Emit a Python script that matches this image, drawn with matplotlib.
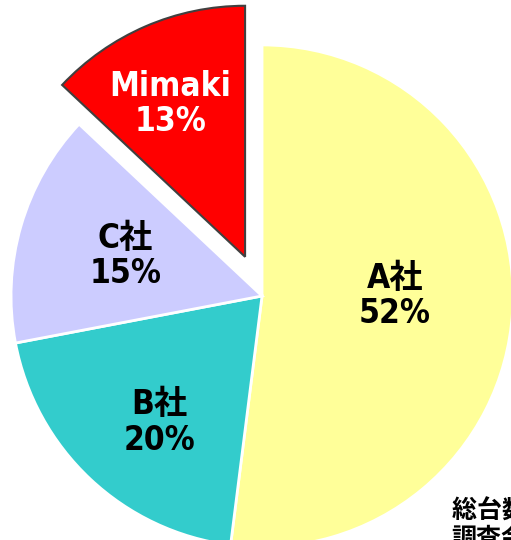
import matplotlib
matplotlib.use("Agg")
import matplotlib.pyplot as plt

# shares (clockwise from 12 o'clock)
companies = ["A社", "B社", "C社", "Mimaki"]
shares = [52, 20, 15, 13]
colors = ["#FFFF99", "#33CCCC", "#CCCCFF", "#FF0000"]
explode = [0, 0, 0, 0.17]

# hand-placed label spots (data units, pie radius = 1)
label_xy = [(0.53, 0.0), (-0.41, -0.505), (-0.545, 0.16), (-0.365, 0.765)]
label_colors = ["black", "black", "black", "white"]

label_font = ["DejaVu Sans", "Noto Sans CJK JP"]

fig = plt.figure(figsize=(5.11, 5.40), dpi=100)
ax = fig.add_axes([0, 0, 1, 1])

wedges, _ = ax.pie(shares, colors=colors, explode=explode, startangle=90,
                   counterclock=False, radius=1,
                   wedgeprops=dict(edgecolor="white", linewidth=2))
# Mimaki slice gets a dark outline
wedges[3].set_edgecolor("#404040")
wedges[3].set_linewidth(1.5)

for name, val, (x, y), c in zip(companies, shares, label_xy, label_colors):
    ax.text(x, y, f"{name}\n{val}%", ha="center", va="center",
            fontsize=24, fontweight="bold", fontstretch="condensed",
            color=c, linespacing=1.1, family=label_font)

ax.text(0.755, -0.81, "総台数 調査\n調査会社調べ", ha="left", va="top",
        fontsize=18, fontweight="bold", color="black", linespacing=1.2,
        family=["Noto Sans CJK JP", "DejaVu Sans"])

ax.set_xlim(-1.044, 0.992)
ax.set_ylim(-0.972, 1.179)
ax.set_aspect("auto")
ax.axis("off")

fig.savefig("out.png", dpi=100)
